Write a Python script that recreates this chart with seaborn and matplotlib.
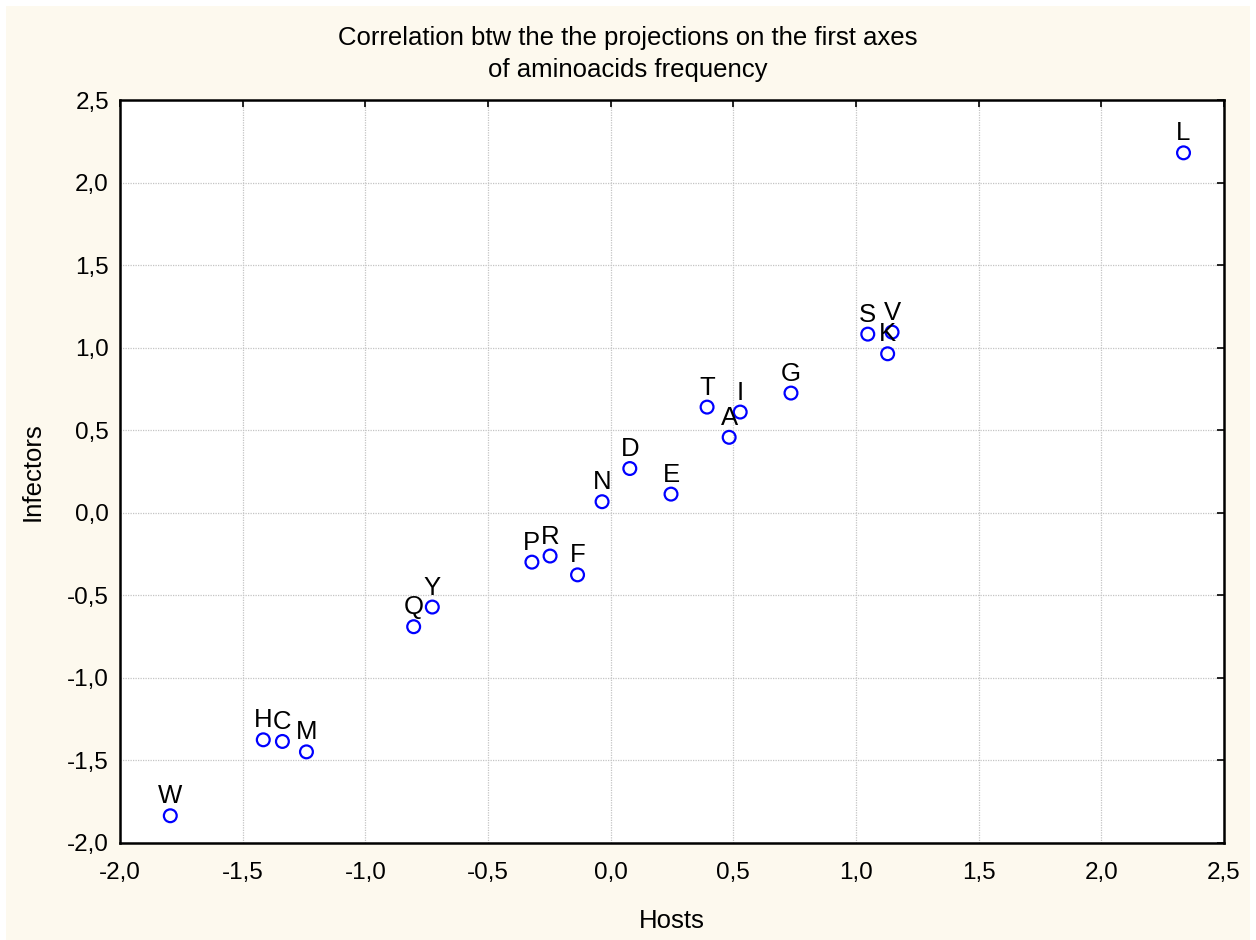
import matplotlib
matplotlib.use("Agg")
import matplotlib.pyplot as plt
import matplotlib.ticker as mticker
from matplotlib.patches import Rectangle
import seaborn as sns
import pandas as pd

labels = ["W", "H", "C", "M", "Q", "Y", "P", "R", "F", "N", "D", "E",
          "T", "I", "A", "G", "S", "V", "K", "L"]
hosts = [-1.795, -1.416, -1.338, -1.240, -0.803, -0.727, -0.321, -0.247, -0.135,
         -0.035, 0.078, 0.246, 0.393, 0.528, 0.483, 0.735, 1.048, 1.147, 1.129, 2.335]
infectors = [-1.835, -1.375, -1.385, -1.448, -0.690, -0.571, -0.299, -0.262, -0.376,
             0.067, 0.268, 0.113, 0.640, 0.610, 0.457, 0.725, 1.082, 1.094, 0.963, 2.180]

title_text = "Correlation btw the the projections on the first axes\nof aminoacids frequency"
x_label = "Hosts"
y_label = "Infectors"
ticks = [-2.0, -1.5, -1.0, -0.5, 0.0, 0.5, 1.0, 1.5, 2.0, 2.5]

df = pd.DataFrame({"label": labels, "Hosts": hosts, "Infectors": infectors})

sns.set_style("white")
plt.rcParams["font.family"] = ["Liberation Sans", "DejaVu Sans"]
plt.rcParams["text.color"] = "black"
plt.rcParams["axes.labelcolor"] = "black"

cream = "#fdf9ee"
fig = plt.figure(figsize=(12.56, 9.4), dpi=100, facecolor="white")
fig.patches.append(Rectangle((6 / 1256, 0), (1250 - 6) / 1256, 934 / 940,
                             transform=fig.transFigure, facecolor=cream,
                             edgecolor="none", zorder=-10))
ax = fig.add_axes([120 / 1256, 1 - 843 / 940, (1224 - 120) / 1256, (843 - 100) / 940])
ax.set_facecolor("white")

sns.scatterplot(data=df, x="Hosts", y="Infectors", ax=ax, s=85,
                facecolor="none", edgecolor="#0000ff", linewidth=1.6,
                zorder=3, legend=False)

for lab, xv, yv in zip(labels, hosts, infectors):
    ax.annotate(lab, (xv, yv), xytext=(0, 9), textcoords="offset points",
                ha="center", va="baseline", fontsize=18.5, color="black", zorder=4)

ax.set_xlim(-2.0, 2.5)
ax.set_ylim(-2.0, 2.5)
ax.set_xticks(ticks)
ax.set_yticks(ticks)
fmt = mticker.FuncFormatter(lambda v, p: f"{v:.1f}".replace(".", ","))
ax.xaxis.set_major_formatter(fmt)
ax.yaxis.set_major_formatter(fmt)
ax.grid(True, color="#c4c4c4", linestyle=(0, (1, 1)), linewidth=0.9)
ax.set_axisbelow(True)

for sp in ax.spines.values():
    sp.set_visible(True)
    sp.set_color("black")
    sp.set_linewidth(1.8)

ax.tick_params(axis="both", which="major", direction="in", length=5, width=1.2,
               top=True, right=True, labelsize=17.5, colors="black")
ax.tick_params(axis="x", pad=14)
ax.tick_params(axis="y", pad=8)

ax.set_xlabel(x_label, fontsize=18.5, labelpad=18)
ax.set_ylabel(y_label, fontsize=18.5, labelpad=16)
fig.text(0.5, 1 - 54 / 940, title_text, ha="center", va="center",
         fontsize=18.5, linespacing=1.45, color="black")

fig.savefig("out.png", dpi=100, facecolor=fig.get_facecolor())
